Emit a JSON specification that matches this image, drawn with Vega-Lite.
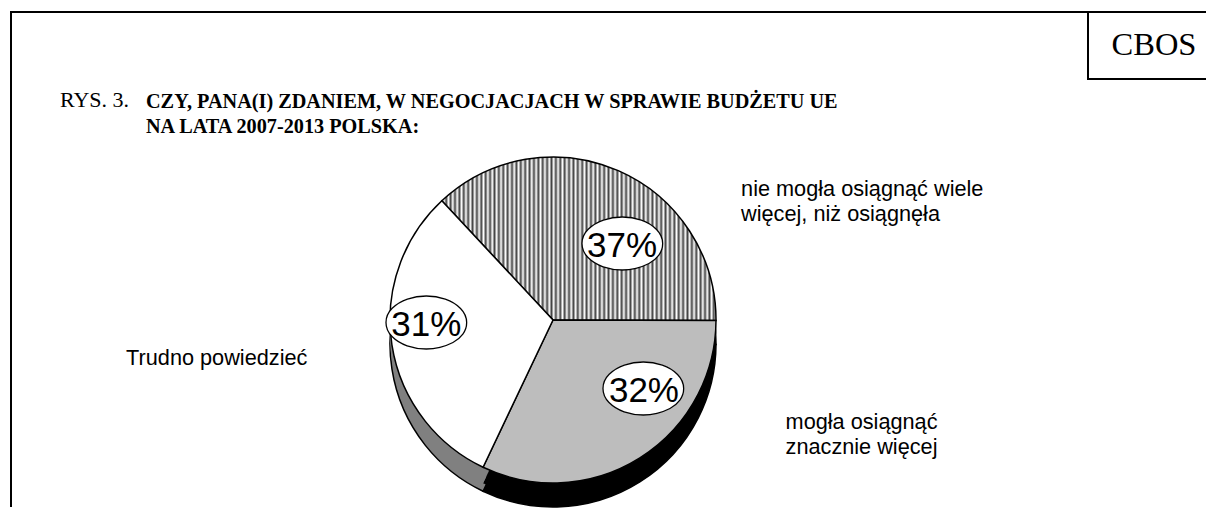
{
  "$schema": "https://vega.github.io/schema/vega-lite/v6.json",
  "width": 1209,
  "height": 510,
  "autosize": {"type": "none"},
  "padding": 0,
  "background": "white",
  "config": {"view": {"stroke": null}, "font": "Liberation Sans"},
  "title": {
    "text": ["CZY, PANA(I) ZDANIEM, W NEGOCJACJACH W SPRAWIE BUDŻETU UE", "NA LATA 2007-2013 POLSKA:"],
    "anchor": "start",
    "font": "Liberation Serif",
    "fontSize": 20.25,
    "fontWeight": "bold",
    "color": "black",
    "baseline": "alphabetic",
    "offset": 0,
    "dx": 146,
    "dy": 153,
    "lineHeight": 25
  },
  "data": {
    "values": [
      {"k": "A", "answer": "nie mogła osiągnąć wiele więcej, niż osiągnęła", "label": "nie mogła osiągnąć wiele\nwięcej, niż osiągnęła", "value": 37, "pct": "37%", "order": 1},
      {"k": "B", "answer": "mogła osiągnąć znacznie więcej", "label": "mogła osiągnąć\nznacznie więcej", "value": 32, "pct": "32%", "order": 2},
      {"k": "C", "answer": "Trudno powiedzieć", "label": "Trudno powiedzieć", "value": 31, "pct": "31%", "order": 3}
    ]
  },
  "layer": [
    {
      "data": {"values": [{"frame": "ramka"}]},
      "mark": {"type": "rule", "stroke": "black", "strokeWidth": 2, "strokeCap": "butt"},
      "encoding": {"x": {"value": 11}, "y": {"value": 11}, "y2": {"value": 507}}
    },
    {
      "data": {"values": [{"frame": "ramka"}]},
      "mark": {"type": "rule", "stroke": "black", "strokeWidth": 2, "strokeCap": "butt"},
      "encoding": {"x": {"value": 10}, "x2": {"value": 1206}, "y": {"value": 12}}
    },
    {
      "data": {"values": [{"frame": "CBOS"}]},
      "mark": {"type": "rule", "stroke": "black", "strokeWidth": 2, "strokeCap": "butt"},
      "encoding": {"x": {"value": 1088}, "y": {"value": 12}, "y2": {"value": 80}}
    },
    {
      "data": {"values": [{"frame": "CBOS"}]},
      "mark": {"type": "rule", "stroke": "black", "strokeWidth": 2, "strokeCap": "butt"},
      "encoding": {"x": {"value": 1087}, "x2": {"value": 1206}, "y": {"value": 79}}
    },
    {
      "mark": {"type": "arc", "radius": 163, "x": 553, "y": 344, "stroke": "black", "strokeWidth": 1.5},
      "encoding": {
        "theta": {"field": "value", "type": "quantitative", "stack": true, "scale": {"range": [-0.7505, 5.5327]}},
        "order": {"field": "order", "type": "quantitative"},
        "fill": {"condition": [{"test": "datum.k === 'B'", "value": "#000000"}, {"test": "datum.k === 'C'", "value": "#808080"}], "value": "#909090"}
      }
    },
    {
      "mark": {"type": "arc", "radius": 163, "x": 553, "y": 328, "strokeWidth": 0},
      "encoding": {
        "theta": {"field": "value", "type": "quantitative", "stack": true},
        "order": {"field": "order", "type": "quantitative"},
        "fill": {"condition": [{"test": "datum.k === 'B'", "value": "#000000"}, {"test": "datum.k === 'C'", "value": "#808080"}], "value": "#909090"}
      }
    },
    {
      "mark": {"type": "arc", "radius": 163, "x": 553, "y": 336, "strokeWidth": 0},
      "encoding": {
        "theta": {"field": "value", "type": "quantitative", "stack": true},
        "order": {"field": "order", "type": "quantitative"},
        "fill": {"condition": [{"test": "datum.k === 'B'", "value": "#000000"}, {"test": "datum.k === 'C'", "value": "#808080"}], "value": "#909090"}
      }
    },
    {
      "mark": {"type": "arc", "radius": 163, "x": 553, "y": 320, "stroke": "black", "strokeWidth": 1.5},
      "encoding": {
        "theta": {"field": "value", "type": "quantitative", "stack": true},
        "order": {"field": "order", "type": "quantitative"},
        "fill": {"condition": [
          {"test": "datum.k === 'A'", "value": {"gradient": "linear", "x1": 0, "y1": 0, "x2": 1, "y2": 0, "stops": [
            {"offset": 0, "color": "#444"}, {"offset": 0.008, "color": "#fff"}, {"offset": 0.016, "color": "#444"}, {"offset": 0.024, "color": "#fff"},
            {"offset": 0.032, "color": "#444"}, {"offset": 0.04, "color": "#fff"}, {"offset": 0.048, "color": "#444"}, {"offset": 0.056, "color": "#fff"},
            {"offset": 0.064, "color": "#444"}, {"offset": 0.072, "color": "#fff"}, {"offset": 0.08, "color": "#444"}, {"offset": 0.088, "color": "#fff"},
            {"offset": 0.096, "color": "#444"}, {"offset": 0.104, "color": "#fff"}, {"offset": 0.112, "color": "#444"}, {"offset": 0.12, "color": "#fff"},
            {"offset": 0.128, "color": "#444"}, {"offset": 0.136, "color": "#fff"}, {"offset": 0.144, "color": "#444"}, {"offset": 0.152, "color": "#fff"},
            {"offset": 0.16, "color": "#444"}, {"offset": 0.168, "color": "#fff"}, {"offset": 0.176, "color": "#444"}, {"offset": 0.184, "color": "#fff"},
            {"offset": 0.192, "color": "#444"}, {"offset": 0.2, "color": "#fff"}, {"offset": 0.208, "color": "#444"}, {"offset": 0.216, "color": "#fff"},
            {"offset": 0.224, "color": "#444"}, {"offset": 0.232, "color": "#fff"}, {"offset": 0.24, "color": "#444"}, {"offset": 0.248, "color": "#fff"},
            {"offset": 0.256, "color": "#444"}, {"offset": 0.264, "color": "#fff"}, {"offset": 0.272, "color": "#444"}, {"offset": 0.28, "color": "#fff"},
            {"offset": 0.288, "color": "#444"}, {"offset": 0.296, "color": "#fff"}, {"offset": 0.304, "color": "#444"}, {"offset": 0.312, "color": "#fff"},
            {"offset": 0.32, "color": "#444"}, {"offset": 0.328, "color": "#fff"}, {"offset": 0.336, "color": "#444"}, {"offset": 0.344, "color": "#fff"},
            {"offset": 0.352, "color": "#444"}, {"offset": 0.36, "color": "#fff"}, {"offset": 0.368, "color": "#444"}, {"offset": 0.376, "color": "#fff"},
            {"offset": 0.384, "color": "#444"}, {"offset": 0.392, "color": "#fff"}, {"offset": 0.4, "color": "#444"}, {"offset": 0.408, "color": "#fff"},
            {"offset": 0.416, "color": "#444"}, {"offset": 0.424, "color": "#fff"}, {"offset": 0.432, "color": "#444"}, {"offset": 0.44, "color": "#fff"},
            {"offset": 0.448, "color": "#444"}, {"offset": 0.456, "color": "#fff"}, {"offset": 0.464, "color": "#444"}, {"offset": 0.472, "color": "#fff"},
            {"offset": 0.48, "color": "#444"}, {"offset": 0.488, "color": "#fff"}, {"offset": 0.496, "color": "#444"}, {"offset": 0.504, "color": "#fff"},
            {"offset": 0.512, "color": "#444"}, {"offset": 0.52, "color": "#fff"}, {"offset": 0.528, "color": "#444"}, {"offset": 0.536, "color": "#fff"},
            {"offset": 0.544, "color": "#444"}, {"offset": 0.552, "color": "#fff"}, {"offset": 0.56, "color": "#444"}, {"offset": 0.568, "color": "#fff"},
            {"offset": 0.576, "color": "#444"}, {"offset": 0.584, "color": "#fff"}, {"offset": 0.592, "color": "#444"}, {"offset": 0.6, "color": "#fff"},
            {"offset": 0.608, "color": "#444"}, {"offset": 0.616, "color": "#fff"}, {"offset": 0.624, "color": "#444"}, {"offset": 0.632, "color": "#fff"},
            {"offset": 0.64, "color": "#444"}, {"offset": 0.648, "color": "#fff"}, {"offset": 0.656, "color": "#444"}, {"offset": 0.664, "color": "#fff"},
            {"offset": 0.672, "color": "#444"}, {"offset": 0.68, "color": "#fff"}, {"offset": 0.688, "color": "#444"}, {"offset": 0.696, "color": "#fff"},
            {"offset": 0.704, "color": "#444"}, {"offset": 0.712, "color": "#fff"}, {"offset": 0.72, "color": "#444"}, {"offset": 0.728, "color": "#fff"},
            {"offset": 0.736, "color": "#444"}, {"offset": 0.744, "color": "#fff"}, {"offset": 0.752, "color": "#444"}, {"offset": 0.76, "color": "#fff"},
            {"offset": 0.768, "color": "#444"}, {"offset": 0.776, "color": "#fff"}, {"offset": 0.784, "color": "#444"}, {"offset": 0.792, "color": "#fff"},
            {"offset": 0.8, "color": "#444"}, {"offset": 0.808, "color": "#fff"}, {"offset": 0.816, "color": "#444"}, {"offset": 0.824, "color": "#fff"},
            {"offset": 0.832, "color": "#444"}, {"offset": 0.84, "color": "#fff"}, {"offset": 0.848, "color": "#444"}, {"offset": 0.856, "color": "#fff"},
            {"offset": 0.864, "color": "#444"}, {"offset": 0.872, "color": "#fff"}, {"offset": 0.88, "color": "#444"}, {"offset": 0.888, "color": "#fff"},
            {"offset": 0.896, "color": "#444"}, {"offset": 0.904, "color": "#fff"}, {"offset": 0.912, "color": "#444"}, {"offset": 0.92, "color": "#fff"},
            {"offset": 0.928, "color": "#444"}, {"offset": 0.936, "color": "#fff"}, {"offset": 0.944, "color": "#444"}, {"offset": 0.952, "color": "#fff"},
            {"offset": 0.96, "color": "#444"}, {"offset": 0.968, "color": "#fff"}, {"offset": 0.976, "color": "#444"}, {"offset": 0.984, "color": "#fff"},
            {"offset": 0.992, "color": "#444"}, {"offset": 1, "color": "#fff"}
          ]}},
          {"test": "datum.k === 'B'", "value": "#bdbdbd"}
        ], "value": "#ffffff"}
      }
    },
    {
      "mark": {"type": "text", "radius": 105, "x": 553, "y": 320, "dx": 27, "dy": 22, "font": "DejaVu Sans", "fontSize": 99, "align": "center", "baseline": "middle", "fill": "white", "stroke": "black", "strokeWidth": 1.3},
      "encoding": {
        "theta": {"field": "value", "type": "quantitative", "stack": true},
        "order": {"field": "order", "type": "quantitative"},
        "text": {"condition": {"test": "datum.k === 'A'", "value": "⬬"}, "value": ""}
      }
    },
    {
      "mark": {"type": "text", "radius": 105, "x": 553, "y": 320, "dx": 35, "dy": -18, "font": "DejaVu Sans", "fontSize": 99, "align": "center", "baseline": "middle", "fill": "white", "stroke": "black", "strokeWidth": 1.3},
      "encoding": {
        "theta": {"field": "value", "type": "quantitative", "stack": true},
        "order": {"field": "order", "type": "quantitative"},
        "text": {"condition": {"test": "datum.k === 'B'", "value": "⬬"}, "value": ""}
      }
    },
    {
      "mark": {"type": "text", "radius": 105, "x": 553, "y": 320, "dx": -23, "dy": -11, "font": "DejaVu Sans", "fontSize": 99, "align": "center", "baseline": "middle", "fill": "white", "stroke": "black", "strokeWidth": 1.3},
      "encoding": {
        "theta": {"field": "value", "type": "quantitative", "stack": true},
        "order": {"field": "order", "type": "quantitative"},
        "text": {"condition": {"test": "datum.k === 'C'", "value": "⬬"}, "value": ""}
      }
    },
    {
      "mark": {"type": "text", "radius": 105, "x": 553, "y": 320, "dx": 27, "dy": 22, "fontSize": 35, "align": "center", "baseline": "middle", "color": "black"},
      "encoding": {
        "theta": {"field": "value", "type": "quantitative", "stack": true},
        "order": {"field": "order", "type": "quantitative"},
        "text": {"condition": {"test": "datum.k === 'A'", "field": "pct"}, "value": ""}
      }
    },
    {
      "mark": {"type": "text", "radius": 105, "x": 553, "y": 320, "dx": 35, "dy": -18, "fontSize": 35, "align": "center", "baseline": "middle", "color": "black"},
      "encoding": {
        "theta": {"field": "value", "type": "quantitative", "stack": true},
        "order": {"field": "order", "type": "quantitative"},
        "text": {"condition": {"test": "datum.k === 'B'", "field": "pct"}, "value": ""}
      }
    },
    {
      "mark": {"type": "text", "radius": 105, "x": 553, "y": 320, "dx": -23, "dy": -11, "fontSize": 35, "align": "center", "baseline": "middle", "color": "black"},
      "encoding": {
        "theta": {"field": "value", "type": "quantitative", "stack": true},
        "order": {"field": "order", "type": "quantitative"},
        "text": {"condition": {"test": "datum.k === 'C'", "field": "pct"}, "value": ""}
      }
    },
    {
      "mark": {"type": "text", "radius": 200, "x": 553, "y": 320, "fontSize": 21.7, "align": "left", "baseline": "alphabetic", "dx": 108, "dy": 59, "lineHeight": 25, "lineBreak": "\n", "color": "black"},
      "encoding": {
        "theta": {"field": "value", "type": "quantitative", "stack": true},
        "order": {"field": "order", "type": "quantitative"},
        "text": {"condition": {"test": "datum.k === 'A'", "field": "label"}, "value": ""}
      }
    },
    {
      "mark": {"type": "text", "radius": 200, "x": 553, "y": 320, "fontSize": 21.7, "align": "left", "baseline": "alphabetic", "dx": 126, "dy": -60, "lineHeight": 25, "lineBreak": "\n", "color": "black"},
      "encoding": {
        "theta": {"field": "value", "type": "quantitative", "stack": true},
        "order": {"field": "order", "type": "quantitative"},
        "text": {"condition": {"test": "datum.k === 'B'", "field": "label"}, "value": ""}
      }
    },
    {
      "mark": {"type": "text", "radius": 200, "x": 553, "y": 320, "fontSize": 21.7, "align": "right", "baseline": "alphabetic", "dx": -48, "dy": 14, "lineHeight": 25, "lineBreak": "\n", "color": "black"},
      "encoding": {
        "theta": {"field": "value", "type": "quantitative", "stack": true},
        "order": {"field": "order", "type": "quantitative"},
        "text": {"condition": {"test": "datum.k === 'C'", "field": "label"}, "value": ""}
      }
    },
    {
      "data": {"values": [{"name": "CBOS"}]},
      "mark": {"type": "text", "x": 1154, "y": 55, "font": "Liberation Serif", "fontSize": 32.5, "align": "center", "baseline": "alphabetic", "color": "black"},
      "encoding": {"text": {"field": "name"}}
    },
    {
      "data": {"values": [{"fig": "RYS. 3."}]},
      "mark": {"type": "text", "x": 60, "y": 107, "font": "Liberation Serif", "fontSize": 22, "align": "left", "baseline": "alphabetic", "color": "black"},
      "encoding": {"text": {"field": "fig"}}
    }
  ]
}
